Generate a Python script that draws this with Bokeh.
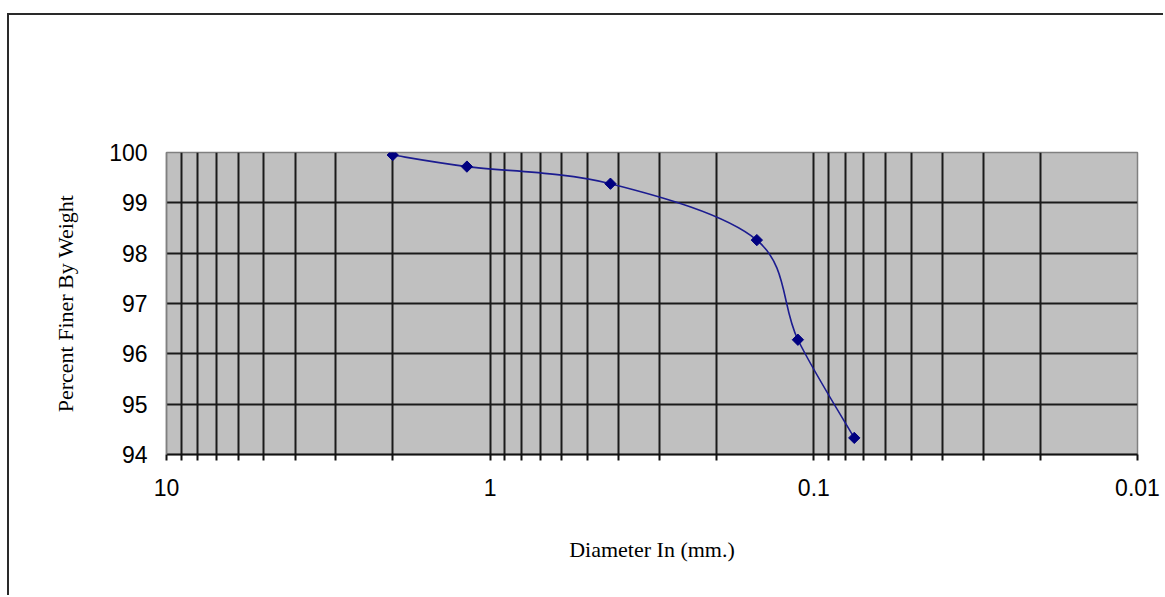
import numpy as np
from bokeh.plotting import figure
from bokeh.models import Range1d, FixedTicker
from bokeh.embed import file_html
from bokeh.resources import INLINE

# ---- data ----
diameter_mm = [2.0, 1.18, 0.425, 0.15, 0.112, 0.075]
percent_finer = [99.95, 99.72, 99.38, 98.26, 96.28, 94.33]

x_tick_values = [10, 1, 0.1, 0.01]
x_tick_labels = ["10", "1", "0.1", "0.01"]
x_minor_multipliers = [2, 3, 4, 5, 6, 7, 8, 9]
x_minor_decades = [-2, -1, 0]
y_tick_values = [94, 95, 96, 97, 98, 99, 100]
y_grid_values = [95, 96, 97, 98, 99]

x_minor = [m * 10.0 ** e for e in x_minor_decades for m in x_minor_multipliers]

p = figure(
    width=1156, height=582,
    x_axis_type="log",
    x_range=Range1d(10, 0.01),
    y_range=Range1d(94, 100),
    output_backend="svg",
    toolbar_location=None,
    min_border_left=157, min_border_right=28,
    min_border_top=137, min_border_bottom=143,
    margin=(13, 0, 0, 7),
    styles={"border-left": "2px solid #2a2a2a", "border-top": "2px solid #2a2a2a"},
    background_fill_color="#C0C0C0",
    border_fill_color="white",
)
p.outline_line_color = "#808080"
p.outline_line_width = 1.5

# x axis
p.xaxis.ticker = FixedTicker(ticks=x_tick_values, minor_ticks=x_minor)
p.xaxis.major_label_overrides = {v: l for v, l in zip(x_tick_values, x_tick_labels)}
p.xaxis.axis_label = "Diameter In (mm.)"
p.xaxis.axis_label_text_font = "Liberation Serif"
p.xaxis.axis_label_text_font_style = "normal"
p.xaxis.axis_label_text_font_size = "22px"
p.xaxis.axis_label_text_color = "black"
p.xaxis.axis_label_standoff = 38
p.xaxis.major_label_text_font = "Liberation Sans"
p.xaxis.major_label_text_font_size = "23px"
p.xaxis.major_label_text_color = "black"
p.xaxis.major_label_standoff = 18
p.xaxis.axis_line_color = "#111111"
p.xaxis.axis_line_width = 2
p.xaxis.major_tick_line_color = "#111111"
p.xaxis.minor_tick_line_color = "#111111"
p.xaxis.major_tick_line_width = 2
p.xaxis.minor_tick_line_width = 2
p.xaxis.major_tick_out = 6
p.xaxis.major_tick_in = 0
p.xaxis.minor_tick_out = 6
p.xaxis.minor_tick_in = 0

# y axis
p.yaxis.ticker = FixedTicker(ticks=y_tick_values)
p.yaxis.axis_label = "Percent Finer By Weight"
p.yaxis.axis_label_text_font = "Liberation Serif"
p.yaxis.axis_label_text_font_style = "normal"
p.yaxis.axis_label_text_font_size = "22px"
p.yaxis.axis_label_text_color = "black"
p.yaxis.axis_label_standoff = 28
p.yaxis.major_label_text_font = "Liberation Sans"
p.yaxis.major_label_text_font_size = "23px"
p.yaxis.major_label_text_color = "black"
p.yaxis.major_label_standoff = 19
p.yaxis.axis_line_color = "#808080"
p.yaxis.axis_line_width = 1.5
p.yaxis.major_tick_out = 0
p.yaxis.major_tick_in = 0
p.yaxis.minor_tick_line_color = None

# grids
p.xgrid.ticker = FixedTicker(ticks=x_tick_values, minor_ticks=x_minor)
p.xgrid.grid_line_color = "#1a1a1a"
p.xgrid.grid_line_width = 2
p.xgrid.minor_grid_line_color = "#1a1a1a"
p.xgrid.minor_grid_line_width = 2
p.ygrid.ticker = FixedTicker(ticks=y_grid_values)
p.ygrid.grid_line_color = "#1a1a1a"
p.ygrid.grid_line_width = 2

# smoothed line (Catmull-Rom style Bezier in log-x screen space)
lx = np.log10(np.array(diameter_mm))
yy = np.array(percent_finer)
n = len(lx)
def P(i):
    i = min(max(i, 0), n - 1)
    return lx[i], yy[i]

x0, y0, x1, y1, cx0, cy0, cx1, cy1 = ([] for _ in range(8))
for i in range(n - 1):
    pa, pb, pc, pd = P(i - 1), P(i), P(i + 1), P(i + 2)
    x0.append(10 ** pb[0]); y0.append(pb[1])
    x1.append(10 ** pc[0]); y1.append(pc[1])
    cx0.append(10 ** (pb[0] + (pc[0] - pa[0]) / 6)); cy0.append(pb[1] + (pc[1] - pa[1]) / 6)
    cx1.append(10 ** (pc[0] - (pd[0] - pb[0]) / 6)); cy1.append(pc[1] - (pd[1] - pb[1]) / 6)

p.bezier(x0=x0, y0=y0, x1=x1, y1=y1, cx0=cx0, cy0=cy0, cx1=cx1, cy1=cy1,
         line_color="#1c1c90", line_width=1.6)

p.scatter(diameter_mm, percent_finer, marker="square", angle=np.pi / 4,
          size=8, fill_color="#000080", line_color="#000080")

open("out.html", "w").write(file_html(p, INLINE))
